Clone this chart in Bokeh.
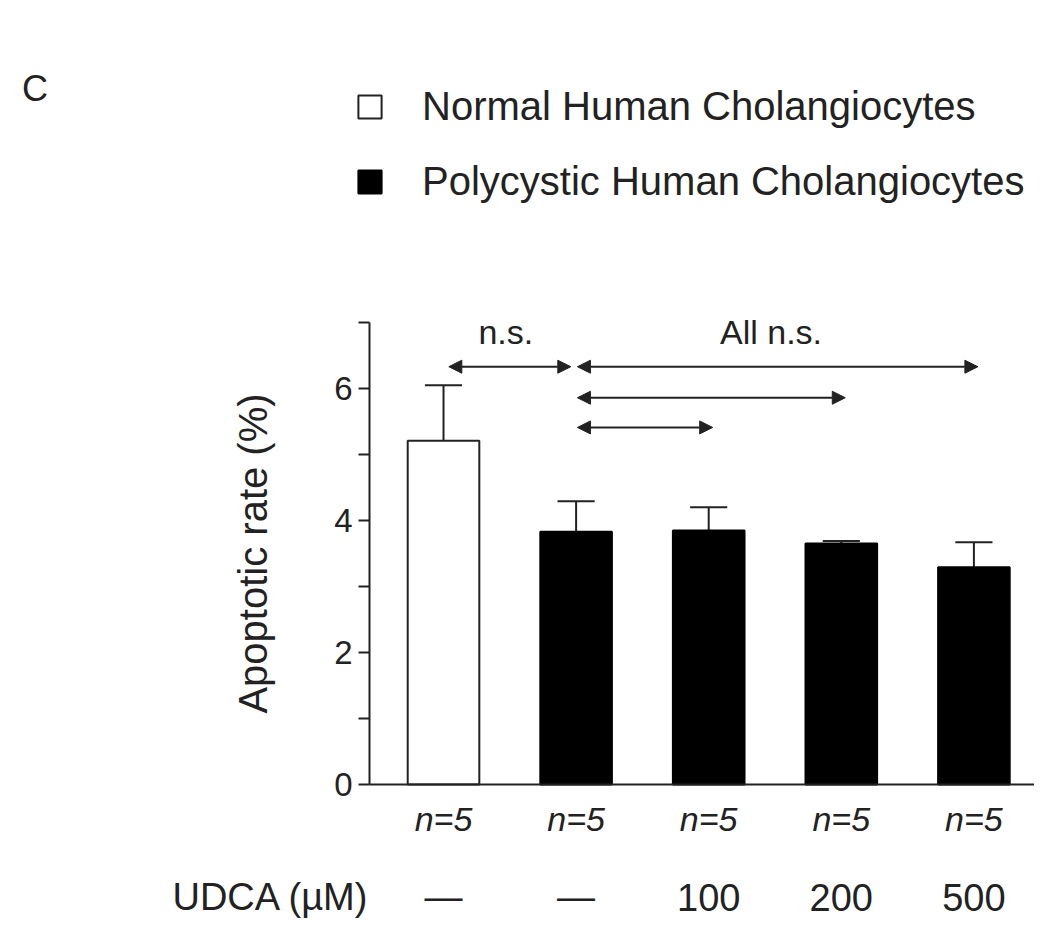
from bokeh.plotting import figure
from bokeh.models import (ColumnDataSource, FixedTicker, Legend, LegendItem, LabelSet, Label,
                          Arrow, NormalHead, Range1d)
from bokeh.core.properties import value
from bokeh.embed import file_html
from bokeh.resources import INLINE

# ---------------- data ----------------
groups = ["Normal Human Cholangiocytes", "Polycystic Human Cholangiocytes",
          "Polycystic Human Cholangiocytes", "Polycystic Human Cholangiocytes",
          "Polycystic Human Cholangiocytes"]
means = [5.21, 3.83, 3.85, 3.65, 3.29]
sems = [0.84, 0.46, 0.35, 0.04, 0.38]
n_labels = ["n=5", "n=5", "n=5", "n=5", "n=5"]
udca_doses = ["\u2014", "\u2014", "100", "200", "500"]
y_major_ticks = [0, 2, 4, 6]
y_minor_ticks = [1, 3, 5, 7]
y_max = 7
# comparisons (group index pairs) and their labels
comparisons = [(0, 1), (1, 4), (1, 3), (1, 2)]
comparison_labels = ["n.s.", "All n.s.", "", ""]

FONT = "Liberation Sans"
TXT = "#222222"
W, H = 1034, 920

xs = list(range(len(means)))
x_left, x_right = -0.558, 4.457

p = figure(width=W, height=H, x_range=Range1d(-3.341, 4.457), y_range=Range1d(-2.061, 11.879),
           output_backend="svg", toolbar_location=None,
           min_border_left=0, min_border_right=0, min_border_top=0, min_border_bottom=0)
p.outline_line_color = None
p.xgrid.visible = False
p.ygrid.visible = False
p.background_fill_color = "white"
p.border_fill_color = "white"

# y axis (fixed at left edge of the plotting area)
yax = p.yaxis[0]
yax.fixed_location = x_left
yax.bounds = (0, y_max)
yax.ticker = FixedTicker(ticks=y_major_ticks, minor_ticks=y_minor_ticks)
yax.axis_line_width = 2
yax.axis_line_color = TXT
yax.major_tick_line_width = 2
yax.minor_tick_line_width = 2
yax.major_tick_line_color = TXT
yax.minor_tick_line_color = TXT
yax.major_tick_out = 11
yax.major_tick_in = 0
yax.minor_tick_out = 11
yax.minor_tick_in = 0
yax.major_label_text_font = FONT
yax.major_label_text_font_size = "33px"
yax.major_label_text_color = TXT
yax.major_label_standoff = 6
yax.axis_label = "Apoptotic rate (%)"
yax.axis_label_text_font = FONT
yax.axis_label_text_font_size = "40px"
yax.axis_label_text_font_style = "normal"
yax.axis_label_text_color = TXT
yax.axis_label_standoff = 56

# x axis: line only, at y = 0
xax = p.xaxis[0]
xax.fixed_location = 0
xax.bounds = (x_left, x_right)
xax.axis_line_width = 2
xax.axis_line_color = TXT
xax.major_tick_line_color = None
xax.minor_tick_line_color = None
xax.major_label_text_color = None
xax.ticker = FixedTicker(ticks=[])

# bars
src = ColumnDataSource(dict(x=xs, top=means, group=groups,
                            err_top=[m + s for m, s in zip(means, sems)],
                            cap_l=[x - 0.14 for x in xs], cap_r=[x + 0.14 for x in xs],
                            n=n_labels, dose=udca_doses,
                            n_y=[-0.52] * len(xs), dose_y=[-1.71] * len(xs)))

# error bars (behind bars so the stem starts at the bar top)
p.segment(x0="x", y0="top", x1="x", y1="err_top", source=src, line_color=TXT, line_width=2)
p.segment(x0="cap_l", y0="err_top", x1="cap_r", y1="err_top", source=src, line_color=TXT, line_width=2)

normal_idx = [i for i, g in enumerate(groups) if g.startswith("Normal")]
poly_idx = [i for i, g in enumerate(groups) if g.startswith("Polycystic")]
src_n = ColumnDataSource(dict(x=[xs[i] for i in normal_idx], top=[means[i] for i in normal_idx]))
src_p = ColumnDataSource(dict(x=[xs[i] for i in poly_idx], top=[means[i] for i in poly_idx]))
r_n = p.vbar(x="x", top="top", bottom=0, width=0.54, source=src_n, fill_color="white",
             line_color=TXT, line_width=2)
r_p = p.vbar(x="x", top="top", bottom=0, width=0.54, source=src_p, fill_color="black",
             line_color="black", line_width=2)

legend = Legend(items=[LegendItem(label=groups[0], renderers=[r_n]),
                       LegendItem(label=groups[1], renderers=[r_p])],
                location=(355, H - 204), orientation="vertical",
                glyph_width=29, glyph_height=29, label_standoff=38,
                label_text_font=FONT, label_text_font_size="40px", label_text_color=TXT,
                spacing=30, padding=0, margin=0, border_line_color=None,
                background_fill_alpha=0)
p.add_layout(legend, "center")

# significance arrows
levels = [6.33, 6.33, 5.86, 5.41]
ax0, ax1 = [], []
for k, (a, b) in enumerate(comparisons):
    if k == 0:
        ax0.append(a + 0.04); ax1.append(b - 0.04)
    else:
        ax0.append(a + 0.01); ax1.append(b + 0.03)
arrow_src = ColumnDataSource(dict(x0=ax0, x1=ax1, y=levels))
p.add_layout(Arrow(start=NormalHead(size=13, fill_color=TXT, line_color=TXT, line_width=1),
                   end=NormalHead(size=13, fill_color=TXT, line_color=TXT, line_width=1),
                   x_start="x0", y_start="y", x_end="x1", y_end="y", source=arrow_src,
                   line_color=TXT, line_width=2))

lab_x, lab_y, lab_t = [], [], []
for k, (a, b) in enumerate(comparisons):
    if comparison_labels[k]:
        lab_x.append((a + b) / 2 - 0.03)
        lab_y.append(levels[k] + 0.35)
        lab_t.append(comparison_labels[k])
p.add_layout(LabelSet(x="x", y="y", text="t", source=ColumnDataSource(dict(x=lab_x, y=lab_y, t=lab_t)),
                      text_align="center", text_baseline="alphabetic", text_font=value(FONT),
                      text_font_size=value("34px"), text_color=TXT))

# n labels and doses below the axis
p.add_layout(LabelSet(x="x", y="n_y", text="n", source=src, text_align="center",
                      text_baseline="middle", text_font=value(FONT), text_font_size=value("34px"),
                      text_font_style="italic", text_color=TXT))
p.add_layout(LabelSet(x="x", y="dose_y", text="dose", source=src, text_align="center",
                      text_baseline="middle", text_font=value(FONT), text_font_size=value("38px"),
                      text_color=TXT))
p.add_layout(Label(x=x_left, y=-1.71, text="UDCA (\u00b5M)", text_align="right",
                   text_baseline="middle", text_font=FONT, text_font_size="38px",
                   text_color=TXT))

# panel letter
p.add_layout(Label(x=-3.08, y=10.55, text="C", text_align="center", text_baseline="middle",
                   text_font=FONT, text_font_size="36px", text_color=TXT))

open("out.html", "w").write(file_html(p, INLINE))
